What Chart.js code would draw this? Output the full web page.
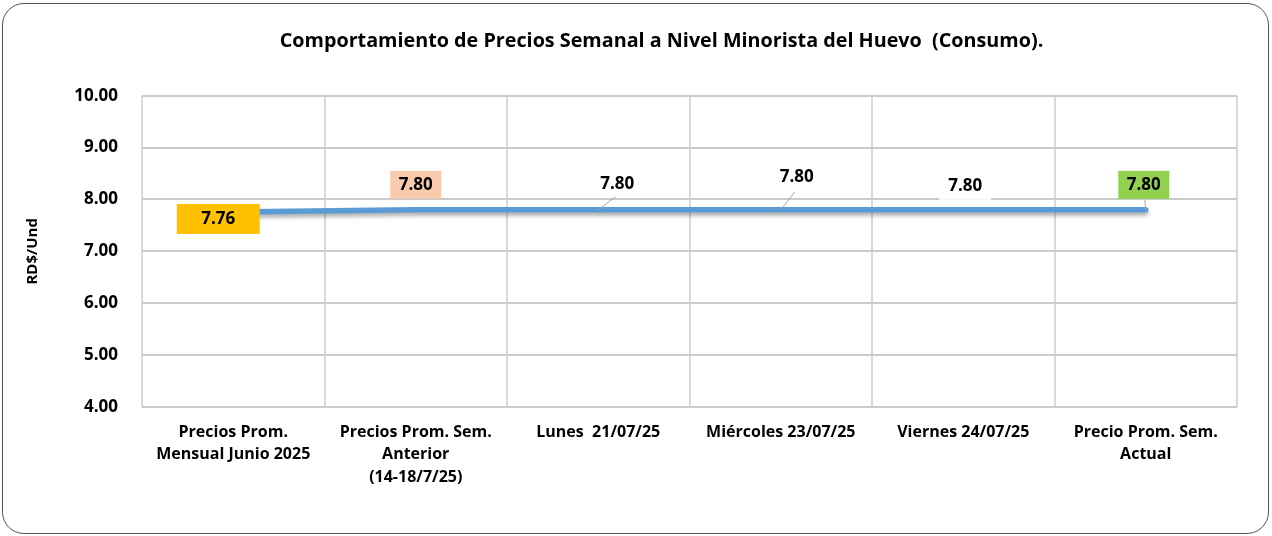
<!DOCTYPE html>
<html>
<head>
<meta charset="utf-8">
<script src="https://cdn.jsdelivr.net/npm/chart.js@4/dist/chart.umd.min.js"></script>
<style>
  html, body { margin: 0; padding: 0; background: #ffffff; }
  #wrap { position: relative; width: 1272px; height: 536px; }
  #marco {
    position: absolute; left: 2px; top: 3px; width: 1265px; height: 529px;
    border: 1.5px solid #555555; border-radius: 22px; pointer-events: none;
  }
</style>
</head>
<body>
<div id="wrap">
  <canvas id="huevoChart" width="1272" height="536"></canvas>
  <div id="marco"></div>
</div>
<script>
// Datos del gráfico
const categorias = [
    ['Precios Prom.', 'Mensual Junio 2025'],
    ['Precios Prom. Sem.', 'Anterior', '(14-18/7/25)'],
    'Lunes  21/07/25',
    'Miércoles 23/07/25',
    'Viernes 24/07/25',
    ['Precio Prom. Sem.', 'Actual']
];
const precios = [7.76, 7.80, 7.80, 7.80, 7.80, 7.80];
const ejeYMin = 4;
const ejeYMax = 10;
const ejeYPaso = 1;
const titulo = 'Comportamiento de Precios Semanal a Nivel Minorista del Huevo  (Consumo).';
const tituloEjeY = 'RD$/Und';

// Estilo de las etiquetas de datos (desplazamientos en px respecto al punto)
const estiloEtiquetas = [
    { dx: -15, dy: 7,   fondo: '#FFC000', w: 83, h: 30 },
    { dx: 0,   dy: -25, fondo: '#F8CBAD', w: 51, h: 28 },
    { dx: 19,  dy: -26, fondo: null, guia: [17, -13] },
    { dx: 16,  dy: -33, fondo: null, guia: [14, -18] },
    { dx: 2,   dy: -24, fondo: '#FFFFFF', w: 52, h: 28 },
    { dx: -2,  dy: -25, fondo: '#92D050', w: 51, h: 28, guia: [-1, -10] }
];

const FUENTE = '"Open Sans", "Noto Sans", sans-serif';

// El título del original está algo desplazado a la derecha
const moverTitulo = {
    id: 'moverTitulo',
    afterLayout(chart) {
        const t = chart.titleBlock;
        if (t) { t.left += 33; t.right += 33; }
    }
};

const sombraLinea = {
    id: 'sombraLinea',
    beforeDatasetsDraw(chart) {
        const ctx = chart.ctx;
        ctx.save();
        ctx.shadowColor = 'rgba(0,0,0,0.35)';
        ctx.shadowBlur = 4;
        ctx.shadowOffsetY = 3;
    },
    afterDatasetsDraw(chart) {
        chart.ctx.restore();
    }
};

const etiquetasDatos = {
    id: 'etiquetasDatos',
    afterDatasetsDraw(chart) {
        const ctx = chart.ctx;
        const meta = chart.getDatasetMeta(0);
        meta.data.forEach((pt, i) => {
            const st = estiloEtiquetas[i];
            const x = pt.x + st.dx;
            const y = pt.y + st.dy;
            ctx.save();
            if (st.guia) {
                ctx.strokeStyle = '#A6A6A6';
                ctx.lineWidth = 1;
                ctx.beginPath();
                ctx.moveTo(pt.x, pt.y);
                ctx.lineTo(pt.x + st.guia[0], pt.y + st.guia[1]);
                ctx.stroke();
            }
            if (st.fondo) {
                ctx.fillStyle = st.fondo;
                ctx.fillRect(x - st.w / 2, y - st.h / 2, st.w, st.h);
            }
            ctx.fillStyle = '#000000';
            ctx.font = 'bold 17px ' + FUENTE;
            ctx.textAlign = 'center';
            ctx.textBaseline = 'middle';
            ctx.fillText(precios[i].toFixed(2), x, y);
            ctx.restore();
        });
    }
};

const ctx = document.getElementById('huevoChart').getContext('2d');
new Chart(ctx, {
    type: 'line',
    data: {
        labels: categorias,
        datasets: [{
            data: precios,
            borderColor: '#5B9BD5',
            borderWidth: 5.5,
            borderCapStyle: 'round',
            pointRadius: 0,
            tension: 0,
            fill: false
        }]
    },
    options: {
        responsive: false,
        animation: false,
        layout: { padding: { left: 20, right: 35, top: 0, bottom: 0 } },
        plugins: {
            legend: { display: false },
            tooltip: { enabled: false },
            title: {
                display: true,
                text: titulo,
                color: '#000000',
                font: { family: FUENTE, size: 19.75, weight: 'bold', lineHeight: 1.2 },
                padding: { top: 30, bottom: 42 }
            }
        },
        scales: {
            x: {
                offset: true,
                grid: { offset: true, color: '#D9D9D9', lineWidth: 2, drawTicks: false },
                border: { display: false },
                ticks: {
                    color: '#000000',
                    font: { family: FUENTE, size: 16, weight: 'bold', lineHeight: 1.4 },
                    padding: 14,
                    maxRotation: 0,
                    autoSkip: false
                },
                afterFit(scale) { scale.height = 129; }
            },
            y: {
                min: ejeYMin,
                max: ejeYMax,
                ticks: {
                    stepSize: ejeYPaso,
                    color: '#000000',
                    font: { family: FUENTE, size: 17, weight: 'bold' },
                    padding: 24,
                    callback: v => v.toFixed(2)
                },
                grid: { color: '#CACACA', lineWidth: 2, drawTicks: false },
                border: { display: false },
                title: {
                    display: true,
                    text: tituloEjeY,
                    color: '#000000',
                    font: { family: FUENTE, size: 15, weight: 'bold' }
                },
                afterFit(scale) { scale.width = 122; }
            }
        }
    },
    plugins: [moverTitulo, sombraLinea, etiquetasDatos]
});
</script>
</body>
</html>
